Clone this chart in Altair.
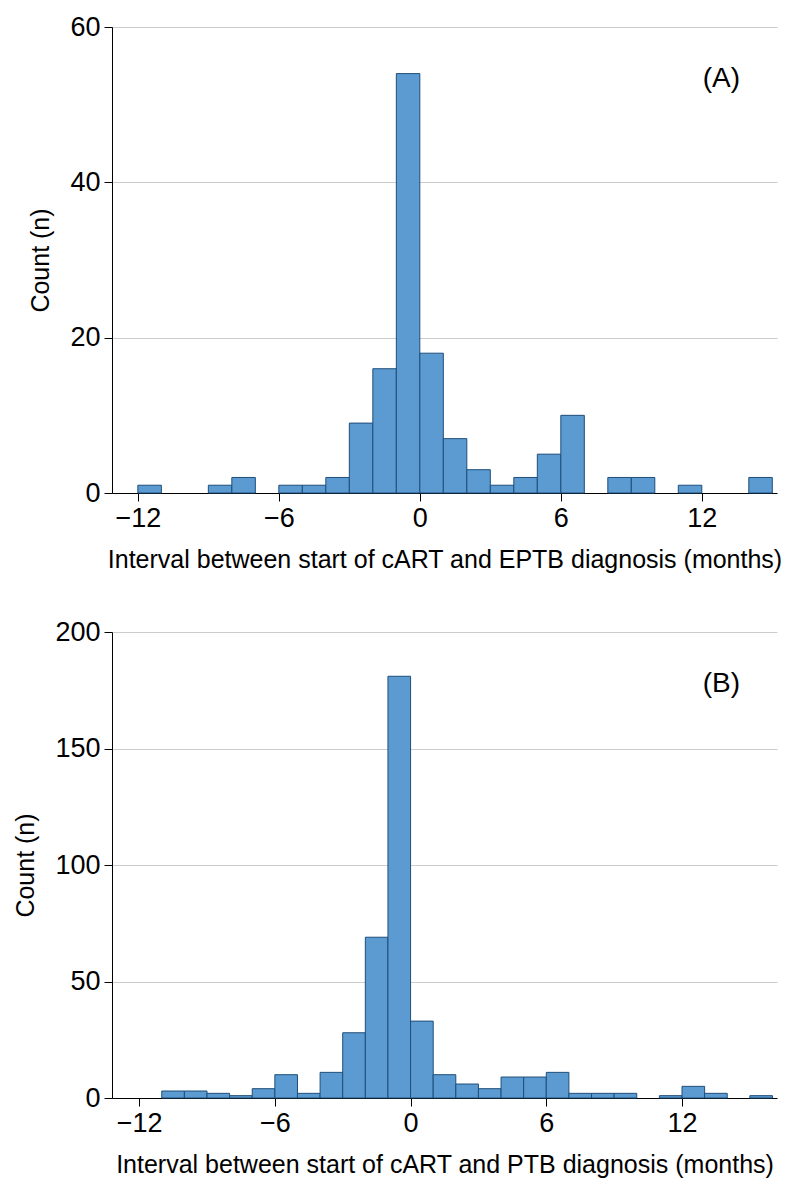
import altair as alt
import pandas as pd

# panel A: EPTB, 1-month bins (bin start -> count)
eptb_start = [-12, -9, -8, -6, -5, -4, -3, -2, -1, 0, 1, 2, 3, 4, 5, 6, 8, 9, 11, 14]
eptb_count = [1, 1, 2, 1, 1, 2, 9, 16, 54, 18, 7, 3, 1, 2, 5, 10, 2, 2, 1, 2]

# panel B: PTB
ptb_start = [-11, -10, -9, -8, -7, -6, -5, -4, -3, -2, -1, 0, 1, 2, 3, 4, 5, 6, 7, 8, 9, 11, 12, 13, 15]
ptb_count = [3, 3, 2, 1, 4, 10, 2, 11, 28, 69, 181, 33, 10, 6, 4, 9, 9, 11, 2, 2, 2, 1, 5, 2, 1]

FONT = "Liberation Sans"


def panel(starts, counts, xdom, ymax, ystep, xtitle, tag):
    df = pd.DataFrame({"start": starts, "count": counts})
    df["end"] = df["start"] + 1
    bars = alt.Chart(df).mark_rect(fill="#5b9bd1", stroke="#1f4e79", strokeWidth=1).encode(
        x=alt.X("start:Q", scale=alt.Scale(domain=xdom, nice=False, zero=False),
                axis=alt.Axis(values=[-12, -6, 0, 6, 12], title=xtitle, grid=False,
                              tickSize=8, titlePadding=16)),
        x2="end:Q",
        y=alt.Y("count:Q", scale=alt.Scale(domain=[0, ymax], nice=False),
                axis=alt.Axis(values=list(range(0, ymax + 1, ystep)), title="Count (n)",
                              tickSize=8, titlePadding=16, gridColor="#cccccc")),
        y2=alt.datum(0),
    )
    label = alt.Chart(pd.DataFrame({"tag": [tag]})).mark_text(
        fontSize=28, font=FONT, align="right"
    ).encode(x=alt.value(628), y=alt.value(52), text="tag:N")
    return (bars + label).properties(width=665, height=466)


a = panel(eptb_start, eptb_count, [-13.1, 15.2], 60, 20,
          "Interval between start of cART and EPTB diagnosis (months)", "(A)")
b = panel(ptb_start, ptb_count, [-13.2, 16.2], 200, 50,
          "Interval between start of cART and PTB diagnosis (months)", "(B)")

chart = alt.vconcat(a, b, spacing=46).configure_axis(
    labelFont=FONT, titleFont=FONT, labelFontSize=27, titleFontSize=25,
    labelColor="black", titleColor="black", titleFontWeight="normal",
    domainColor="black", tickColor="black", labelPadding=4,
).configure_view(stroke=None)

chart.save("out.html", embed_options={"renderer": "svg", "actions": False})
